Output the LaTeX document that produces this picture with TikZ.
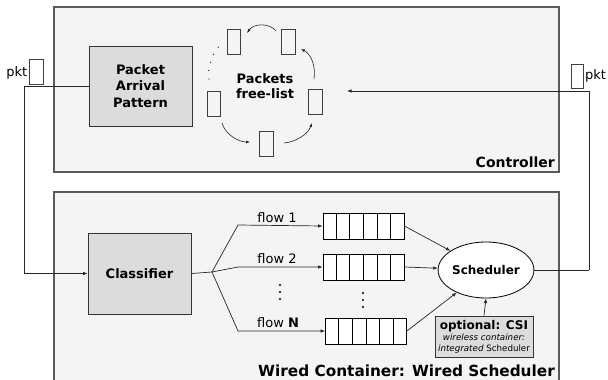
\documentclass[tikz,border=0pt]{standalone}
\usepackage{fontspec}
\setmainfont{DejaVu Sans}
\usetikzlibrary{arrows.meta,shapes.geometric,calc}
\definecolor{contfill}{HTML}{F4F4F4}
\definecolor{boxfill}{HTML}{DCDCDC}
\definecolor{edgegray}{HTML}{5A5A5A}
\begin{document}
\begin{tikzpicture}[x=1pt,y=-1pt,
  container/.style={draw=edgegray, fill=contfill, line width=1.2pt, inner sep=0},
  graybox/.style={draw=black!80, fill=boxfill, line width=0.8pt, inner sep=0, align=center,
    font=\bfseries\fontsize{13}{16.5}\selectfont, minimum width=103pt},
  pktbox/.style={draw=black!75, line width=0.6pt, inner sep=0, minimum width=13.5pt, minimum height=25pt},
  queue/.style={draw=black, fill=white, line width=0.8pt, inner sep=0, minimum width=81pt, minimum height=26pt},
  conn/.style={draw=black!85, line width=0.7pt},
  arr/.style={conn, -{Latex[length=4.5pt,width=3.5pt]}},
  curvarr/.style={draw=black!85, line width=0.6pt, -{Latex[length=4pt,width=3pt]}},
  title/.style={inner sep=0, font=\bfseries\fontsize{14}{16}\selectfont},
  plain/.style={inner sep=0, font=\fontsize{13}{15}\selectfont},
]
\useasboundingbox (0,0) rectangle (608,380);
% containers
\node[container, minimum width=505pt, minimum height=165pt] (ctrl) at (306.5,89.5) {};
\node[container, minimum width=505pt, minimum height=192pt] (wired) at (306.5,288) {};
\node[title, anchor=east] (ctrllbl) at (555,162) {Controller};
\node[title, anchor=east, font=\bfseries\fontsize{15.3}{17}\selectfont] (wiredlbl) at (555,371) {Wired Container: Wired Scheduler};

% controller content
\node[graybox, minimum height=80pt] (pap) at (140.5,86) {Packet\\Arrival\\Pattern};
\node[inner sep=0, align=center, font=\bfseries\fontsize{13}{15}\selectfont] (fltxt) at (265,86.5) {Packets\\free-list};
\node[pktbox] (fl1) at (234,41.5) {};
\node[pktbox] (fl2) at (288.5,41.5) {};
\node[pktbox] (fl3) at (214,103.5) {};
\node[pktbox] (fl4) at (315.5,101.5) {};
\node[pktbox] (fl5) at (266.5,144) {};
\coordinate (a1s) at (276,31); \coordinate (a1e) at (247,33);
\coordinate (a2s) at (314,79); \coordinate (a2e) at (301,49);
\coordinate (a3s) at (284,143); \coordinate (a3e) at (312,123);
\coordinate (a4s) at (222,123); \coordinate (a4e) at (250,142);
\draw[curvarr] (a1s) .. controls (270,23) and (254,23) .. (a1e);
\draw[curvarr] (a2s) .. controls (316,66) and (311,54) .. (a2e);
\draw[curvarr] (a3s) .. controls (296,142) and (308,134) .. (a3e);
\draw[curvarr] (a4s) .. controls (225,134) and (238,142) .. (a4e);
\coordinate (d1) at (209,79); \coordinate (d2) at (221,44);
\draw[black!90, line width=1.3pt, line cap=round, dash pattern=on 0pt off 8.5pt] (d1) .. controls (207,66) and (213,52) .. (d2);

% packets outside
\node[pktbox, minimum width=14pt] (pktL) at (36,71.5) {};
\node[plain, anchor=east] (pktLtxt) at (27.5,73) {pkt};
\node[pktbox, minimum width=12pt, minimum height=24pt] (pktR) at (577,76) {};
\node[plain, anchor=west] (pktRtxt) at (585,76) {pkt};

% wired content
\node[graybox, minimum height=81pt] (cls) at (139.5,273.5) {Classifier};
\node[queue] (q1) at (363.5,226) {};
\node[queue] (q2) at (363.5,267) {};
\node[queue] (qN) at (366,331) {};
\foreach \q in {q1,q2,qN}{
  \foreach \i in {1,...,5}{
    \draw[black, line width=0.8pt] ($(\q.north west)!\i/6!(\q.north east)$) -- ($(\q.south west)!\i/6!(\q.south east)$);
  }
}
\node[draw=black, line width=0.8pt, ellipse, fill=white, minimum width=86pt, minimum height=56pt, inner sep=0,
  font=\bfseries\fontsize{12}{14}\selectfont] (sched) at (486,270) {Scheduler};
\node[draw=black!80, fill=boxfill, line width=0.8pt, minimum width=98pt, minimum height=41pt, inner sep=0, align=center] (csi) at (484,336.5)
  {{\bfseries\fontsize{12}{14}\selectfont optional: CSI}\\[-1pt]
   {\fontsize{8.7}{11}\selectfont\itshape wireless container:}\\[-1pt]
   {\fontsize{8.7}{11}\selectfont\textit{integrated} Scheduler}};

\coordinate (br) at (212,272);
\coordinate (k1) at (238,225);
\coordinate (k2) at (238,267);
\coordinate (kN) at (238,331);
\draw[conn] (cls.east) -- (br);
\draw[arr] (br) -- (k1) -- (q1.west);
\draw[arr] (br) -- (k2) -- (q2.west);
\draw[arr] (br) -- (kN) -- (qN.west);
\node[plain, anchor=base] (f1) at (277,222) {flow 1};
\node[plain, anchor=base] (f2) at (277,263) {flow 2};
\node[plain, anchor=base] (fN) at (278,327) {flow \textbf{N}};
\foreach \y in {285,292,299} \fill[black] (280,\y) circle (1.2pt);
\foreach \y in {293,300,307} \fill[black] (363,\y) circle (1.2pt);

\draw[arr] (q1.east) -- (sched);
\draw[arr] (q2.east) -- (sched);
\draw[arr] (qN.east) -- (sched);
\draw[arr] (csi.north) -- (sched.south);

% outer connectors
\coordinate (fltip) at (347,91);
\coordinate (rc) at (589,270);
\coordinate (lc) at (24,86);
\draw[arr] (pap.west) -- (lc) |- (cls.west);
\draw[conn] (sched.east) -- (rc);
\draw[arr] (rc) |- (fltip);
\end{tikzpicture}
\end{document}
